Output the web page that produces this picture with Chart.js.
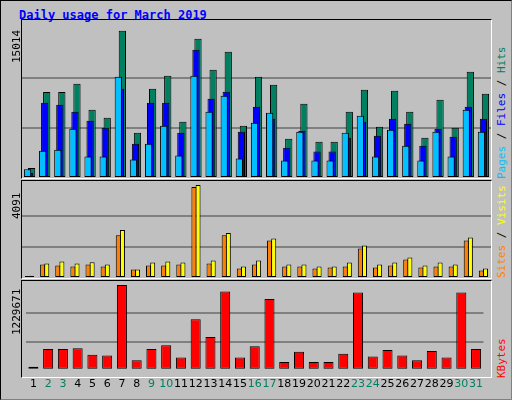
<!DOCTYPE html>
<html>
<head>
<meta charset="utf-8">
<script src="https://cdn.jsdelivr.net/npm/chart.js@4"></script>
<style>
  body { margin: 0; background: #fff; }
  #frame { position: absolute; left: 0; top: 0; width: 510px; height: 398px; background: #c0c0c0;
           border: 1px solid #000; border-right-color: #808080; border-bottom-color: #808080; }
  .panel { position: absolute; left: 20px; width: 469px; border: 1px solid #000; border-right-color: #fff; border-bottom-color: #fff; }
  .c { position: absolute; }
  .title { position: absolute; left: 18px; top: 7px; font: bold 12px "DejaVu Sans Mono", monospace; color: #0000ff; }
  .ylab, .rlab { position: absolute; font: 11px "DejaVu Sans Mono", monospace; transform-origin: left top; transform: rotate(-90deg); white-space: nowrap; }
</style>
</head>
<body>
<div id="frame">
  <div class="title">Daily usage for March 2019</div>
  <div class="panel" style="top:18px;height:158px"></div>
  <div class="panel" style="top:179px;height:97px"></div>
  <div class="panel" style="top:279px;height:96px"></div>
  <canvas id="top" class="c" style="left:21px;top:27px;width:469px;height:150px"></canvas>
  <canvas id="mid" class="c" style="left:21px;top:184px;width:469px;height:93px"></canvas>
  <canvas id="bot" class="c" style="left:21px;top:284px;width:469px;height:114px"></canvas>
  <div class="ylab" style="left:9px;top:62px">15014</div>
  <div class="ylab" style="left:9px;top:218px">4091</div>
  <div class="ylab" style="left:9px;top:334px">1229671</div>
  <div class="rlab" style="left:494px;top:178px"><span style="color:#00c0ff">Pages</span> / <span style="color:#0000ff">Files</span> / <span style="color:#008060">Hits</span></div>
  <div class="rlab" style="left:494px;top:277px"><span style="color:#ff8000">Sites</span> / <span style="color:#ffff00">Visits</span></div>
  <div class="rlab" style="left:494px;top:377px"><span style="color:#ff0000">KBytes</span></div>
</div>
<script>
var days = ['1','2','3','4','5','6','7','8','9','10','11','12','13','14','15','16','17','18','19','20','21','22','23','24','25','26','27','28','29','30','31'];
var weekends = ['2','3','9','10','16','17','23','24','30','31'];
var hits = [1000,8600,8600,9440,6840,6040,14740,4540,8940,10240,5640,13940,10840,12640,5240,10140,9340,3940,7440,3640,3640,6640,8840,5140,8740,6640,4040,7840,5040,10640,8440];
var files = [500,7540,7340,6640,5740,5040,8940,3440,7540,7540,4540,12840,7940,8640,4640,7140,5940,3040,4740,2640,2640,4040,5640,4240,5940,5440,3240,4940,4140,7140,5940];
var pages = [870,2740,2840,4940,2140,2140,10140,1840,3440,5240,2240,10240,6640,8240,1940,5540,6540,1740,4640,1740,1740,4540,6240,2140,4840,3240,1740,4640,2140,6840,4640];
var visits = [103,635,724,635,694,591,2112,369,679,724,679,4091,768,1979,502,768,1743,591,591,502,502,679,1433,591,679,901,546,679,591,1787,414];
var sites = [89,591,546,502,591,502,1876,369,546,546,591,4003,635,1876,414,591,1654,502,502,414,458,502,1300,458,546,812,458,502,502,1654,325];
var kbytes = [44880,300700,300700,314160,219900,206450,1229671,139130,300700,354550,179520,731540,475730,1135460,179520,341090,1027750,112200,260300,112200,112200,233380,1122000,192980,287230,206450,139130,273770,179520,1122000,300700];
var maxTop = 15014, maxMid = 4091, maxBot = 1229671;

function ds(data, color, bp, cp, order) {
    return { data: data, backgroundColor: color, borderColor: '#000', borderWidth: 1, order: order,
             borderSkipped: false, barPercentage: bp, categoryPercentage: cp };
}

function opts(max, showX) {
    return {
        responsive: false, animation: false,
        layout: { padding: 0 },
        plugins: { legend: { display: false }, tooltip: { enabled: false } },
        scales: {
            x: {
                display: showX,
                grid: { display: false, drawTicks: false }, border: { display: false },
                ticks: {
                    padding: 8, autoSkip: false, maxRotation: 0, minRotation: 0,
                    font: { family: 'DejaVu Sans', size: 11 },
                    color: function (c) { return weekends.indexOf(days[c.index]) >= 0 ? '#008060' : '#000'; }
                }
            },
            y: {
                display: true, min: 0, max: max,
                ticks: { display: false, stepSize: max / 3 },
                grid: { color: function (c) { return (c.index === 1 || c.index === 2) ? '#808080' : 'rgba(0,0,0,0)'; }, lineWidth: 2, drawTicks: false },
                border: { display: false }
            }
        }
    };
}

function mk(id, w, h, datasets, max, showX) {
    var el = document.getElementById(id);
    el.width = w; el.height = h;
    return new Chart(el.getContext('2d'), { type: 'bar', data: { labels: days, datasets: datasets }, options: opts(max, showX) });
}

mk('top', 469, 150, [
    ds(hits, '#008060', 3.6, 0.4, 3),
    ds(files, '#0000ff', 3.6, 0.4, 2),
    ds(pages, '#00c0ff', 3.6, 0.4, 1)
], maxTop, false);

mk('mid', 469, 93, [
    ds(visits, '#ffff00', 1.2, 0.55, 2),
    ds(sites, '#ff8000', 1.2, 0.55, 1)
], maxMid, false);

mk('bot', 469, 114, [
    ds(kbytes, '#ff0000', 1, 0.68, 1)
], maxBot, true);
</script>
</body>
</html>
